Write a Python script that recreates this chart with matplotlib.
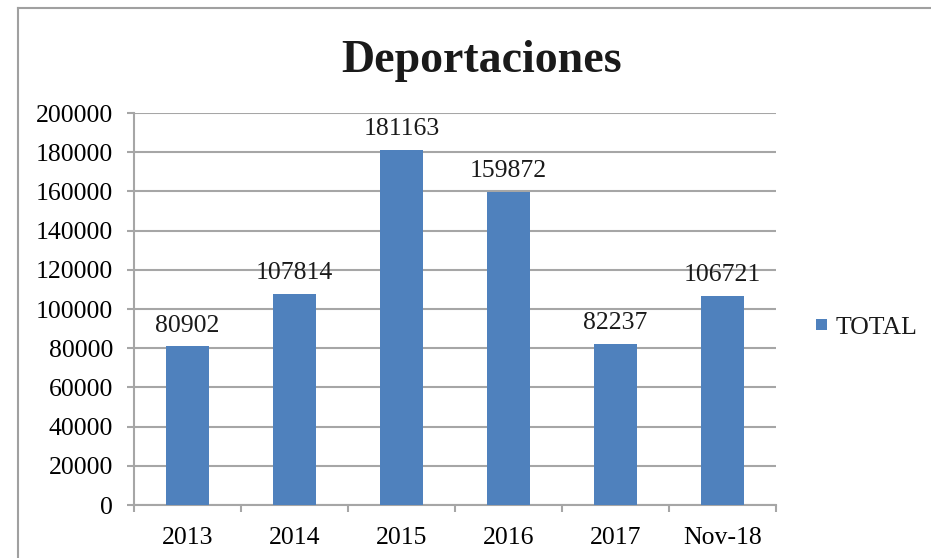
import matplotlib
matplotlib.use("Agg")
import matplotlib.pyplot as plt
from matplotlib.patches import Rectangle
import numpy as np

categories = ["2013", "2014", "2015", "2016", "2017", "Nov-18"]
values = [80902, 107814, 181163, 159872, 82237, 106721]
yticks = [0, 20000, 40000, 60000, 80000, 100000, 120000, 140000, 160000, 180000, 200000]

plt.rcParams['font.family'] = ['Liberation Serif', 'DejaVu Serif']
W, H = 931, 558
fig = plt.figure(figsize=(W/100, H/100), dpi=100)

grid_c = '#A6A6A6'
bar_c = '#4F81BD'

ax = fig.add_axes([134/W, 1-505/H, (776-134)/W, (505-113)/H])
x = np.arange(len(categories))
bars = ax.bar(x, values, width=0.4, color=bar_c, zorder=3, label='TOTAL')
ax.set_xlim(-0.5, len(categories)-0.5)
ax.set_ylim(0, 200000)
ax.set_yticks(yticks)
ax.set_yticklabels([str(v) for v in yticks])
ax.set_xticks(x)
ax.set_xticklabels(categories)
ax.set_xticks(np.arange(-0.5, len(categories)), minor=True)
ax.yaxis.grid(True, color=grid_c, linewidth=1.5, zorder=0)
for s in ['top', 'right']:
    ax.spines[s].set_visible(False)
for s in ['left', 'bottom']:
    ax.spines[s].set_color(grid_c)
    ax.spines[s].set_linewidth(1.5)
ax.tick_params(axis='y', length=5, width=1.5, color=grid_c, pad=10, labelsize=18.5)
ax.tick_params(axis='x', which='major', length=0, pad=16, labelsize=18.5)
ax.tick_params(axis='x', which='minor', length=5, width=1.5, color=grid_c)

for xi, v in zip(x, values):
    ax.annotate(str(v), (xi, v), xytext=(0, 7), textcoords='offset points',
                ha='center', va='bottom', fontsize=18.5, color='#1a1a1a')

fig.text(482/W, 1-61/H, 'Deportaciones', ha='center', va='center',
         fontsize=33, fontweight='bold', color='#1a1a1a')

# legend
fig.patches.append(Rectangle((816/W, 1-330/H), 11/W, 11/H, transform=fig.transFigure,
                             facecolor=bar_c, edgecolor='none'))
fig.text(836/W, 1-328/H, 'TOTAL', ha='left', va='center', fontsize=18.5, color='#1a1a1a')

# outer frame (left and top only visible)
fig.add_artist(plt.Line2D([18/W, 18/W], [0, 1-8/H], transform=fig.transFigure,
                          color='#A0A0A0', linewidth=1.5))
fig.add_artist(plt.Line2D([18/W, 1], [1-8/H, 1-8/H], transform=fig.transFigure,
                          color='#A0A0A0', linewidth=1.5))

fig.savefig('out.png', dpi=100)
